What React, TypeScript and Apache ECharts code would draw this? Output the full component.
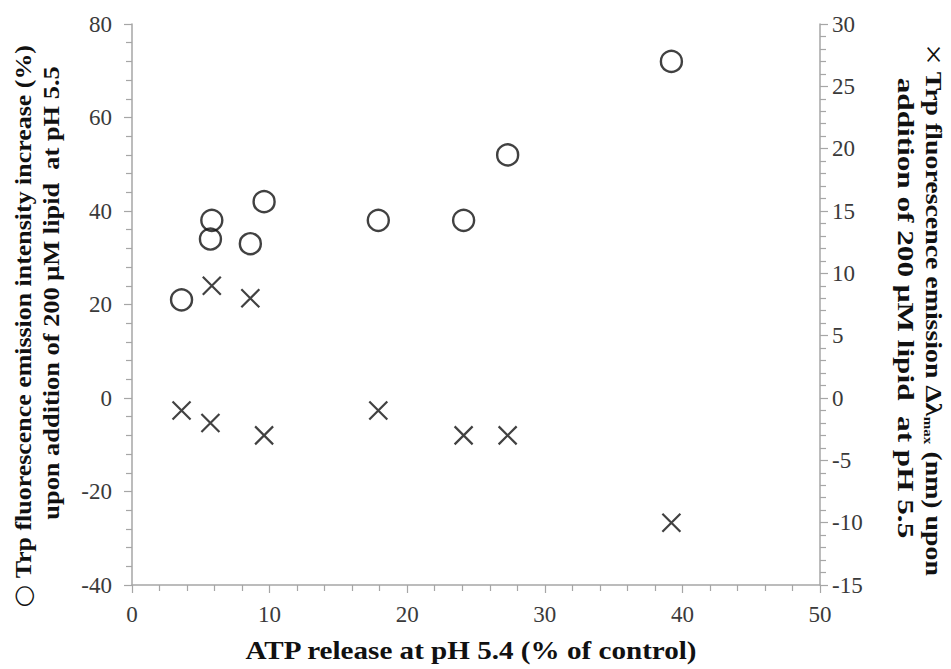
import React, { useEffect, useRef } from "react";
import * as echarts from "echarts";

// ATP release (% of control) for each peptide
const atpRelease = [3.6, 5.8, 5.7, 8.6, 9.6, 17.9, 24.1, 27.3, 39.2];
// Trp emission intensity increase (%) — left axis, open circles
const intensityIncrease = [21, 38, 34, 33, 42, 38, 38, 52, 72];
// Trp emission maximum shift (nm) — right axis, crosses
const lambdaShift = [-1, 9, -2, 8, -3, -1, -3, -3, -10];

const xTicks = { min: 0, max: 50, interval: 10 };
const leftTicks = { min: -40, max: 80, interval: 20 };
const rightTicks = { min: -15, max: 30, interval: 5 };

const FONT = "'Liberation Serif', 'Times New Roman', 'DejaVu Serif', serif";
const AXIS_GRAY = "#a6a6a6";
const LABEL_COLOR = "#3a3a3a";

export default function App() {
  const ref = useRef<HTMLDivElement>(null);

  useEffect(() => {
    document.body.style.margin = "0";
    if (!ref.current) return;
    const chart = echarts.init(ref.current, undefined, { renderer: "svg" });

    const axisCommon = {
      axisLine: { show: true, onZero: false, lineStyle: { color: AXIS_GRAY, width: 1.5 } },
      axisTick: { show: true, length: 8, lineStyle: { color: AXIS_GRAY, width: 1.2 } },
      minorTick: { show: true, splitNumber: 5, length: 6, lineStyle: { color: AXIS_GRAY, width: 1.2 } },
      splitLine: { show: false },
      axisLabel: { color: LABEL_COLOR, fontFamily: FONT, fontSize: 23 },
    };

    const circles = atpRelease.map((x, i) => [x, intensityIncrease[i]]);
    const crosses = atpRelease.map((x, i) => [x, lambdaShift[i]]);

    const titleStyle = {
      fill: "#111",
      fontFamily: FONT,
      fontWeight: "bold",
      align: "center",
      verticalAlign: "middle",
    };

    chart.setOption({
      animation: false,
      backgroundColor: "#fff",
      grid: { left: 132, right: 131, top: 24, bottom: 84, containLabel: false },
      xAxis: {
        type: "value",
        ...xTicks,
        ...axisCommon,
        axisLabel: { ...axisCommon.axisLabel, margin: 18 },
      },
      yAxis: [
        {
          type: "value",
          position: "left",
          ...leftTicks,
          ...axisCommon,
          axisLabel: { ...axisCommon.axisLabel, margin: 20 },
        },
        {
          type: "value",
          position: "right",
          ...rightTicks,
          ...axisCommon,
          axisLabel: { ...axisCommon.axisLabel, margin: 12 },
        },
      ],
      series: [
        {
          name: "intensity",
          type: "scatter",
          yAxisIndex: 0,
          data: circles,
          symbol: "circle",
          symbolSize: 21,
          itemStyle: { color: "rgba(255,255,255,0)", borderColor: "#111", borderWidth: 2.4 },
        },
        {
          name: "shift",
          type: "scatter",
          yAxisIndex: 1,
          data: crosses,
          symbol: "path://M0,0L10,10M10,0L0,10",
          symbolSize: 18,
          itemStyle: { color: "rgba(0,0,0,0)", borderColor: "#111", borderWidth: 2.2 },
        },
      ],
      graphic: [
        {
          type: "text",
          x: 471,
          y: 650,
          scaleX: 1.12,
          style: { ...titleStyle, text: "ATP release at pH 5.4 (% of control)", fontSize: 26 },
        },
        {
          type: "text",
          x: 23,
          y: 326,
          rotation: Math.PI / 2,
          scaleX: 1.08,
          style: {
            ...titleStyle,
            text: "{sym|○} Trp fluorescence emission intensity increase (%)",
            fontSize: 24,
            rich: {
              sym: { fontFamily: "'DejaVu Sans', sans-serif", fontSize: 24, fontWeight: "normal", fill: "#111" },
            },
          },
        },
        {
          type: "text",
          x: 51,
          y: 293,
          rotation: Math.PI / 2,
          scaleX: 1.1,
          style: { ...titleStyle, text: "upon addition of 200 μM lipid  at pH 5.5", fontSize: 24 },
        },
        {
          type: "text",
          x: 934,
          y: 310,
          rotation: -Math.PI / 2,
          scaleX: 1.16,
          style: {
            ...titleStyle,
            text: "{sym|×} Trp fluorescence emission Δλ{sub|max} (nm) upon",
            fontSize: 24,
            rich: {
              sym: { fontFamily: FONT, fontSize: 32, fontWeight: "normal", fill: "#111" },
              sub: { fontFamily: FONT, fontSize: 13, fontWeight: "bold", fill: "#111", padding: [10, 0, 0, 0] },
            },
          },
        },
        {
          type: "text",
          x: 906,
          y: 308,
          rotation: -Math.PI / 2,
          scaleX: 1.3,
          style: { ...titleStyle, text: "addition of 200 μM lipid  at pH 5.5", fontSize: 24 },
        },
      ],
    });

    return () => chart.dispose();
  }, []);

  return <div ref={ref} style={{ width: 951, height: 669 }} />;
}
